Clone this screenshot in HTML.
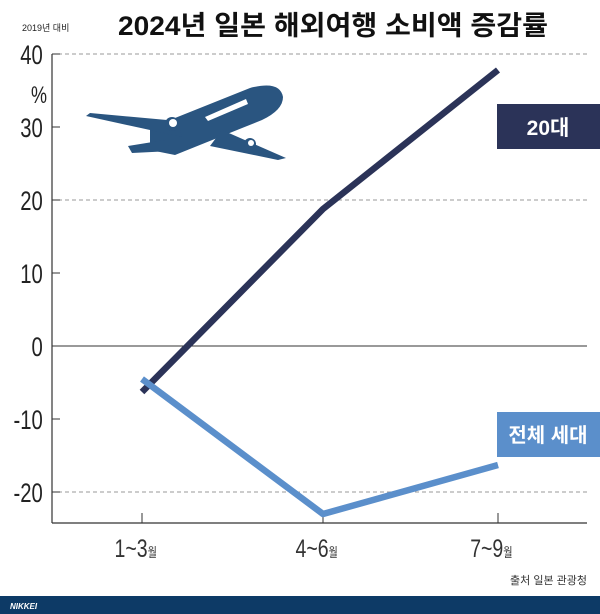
<!DOCTYPE html>
<html><head><meta charset="utf-8"><style>
body{margin:0;background:#fff;}
svg{display:block;}
text{font-family:"Liberation Sans","Noto Sans CJK KR",sans-serif;}
</style></head><body>
<svg width="600" height="614" viewBox="0 0 600 614">
<rect width="600" height="614" fill="#fff"/>
<text x="22" y="31" font-size="9" fill="#222">2019년 대비</text>
<text x="118" y="35" font-size="27" font-weight="bold" fill="#111" textLength="430" lengthAdjust="spacingAndGlyphs">2024년 일본 해외여행 소비액 증감률</text>
<g stroke="#999" stroke-dasharray="4,3" stroke-width="1">
<line x1="58" y1="54" x2="587" y2="54"/>
<line x1="58" y1="200" x2="587" y2="200"/>
<line x1="58" y1="492" x2="587" y2="492"/>
</g>
<line x1="52" y1="346" x2="587" y2="346" stroke="#333" stroke-width="1"/>
<line x1="52" y1="54" x2="52" y2="523" stroke="#333" stroke-width="1.2"/>
<line x1="52" y1="523" x2="587" y2="523" stroke="#333" stroke-width="1.2"/>
<g stroke="#333" stroke-width="1">
<line x1="52" y1="54" x2="60" y2="54"/><line x1="52" y1="127" x2="60" y2="127"/>
<line x1="52" y1="200" x2="60" y2="200"/><line x1="52" y1="273" x2="60" y2="273"/>
<line x1="52" y1="419" x2="60" y2="419"/><line x1="52" y1="492" x2="60" y2="492"/>
<line x1="142" y1="513" x2="142" y2="523"/><line x1="323" y1="513" x2="323" y2="523"/><line x1="498" y1="513" x2="498" y2="523"/>
</g>
<g font-size="27" fill="#222" text-anchor="end" transform="scale(0.75,1)">
<text x="57" y="64">40</text><text x="57" y="137">30</text><text x="57" y="210">20</text>
<text x="57" y="283">10</text><text x="57" y="356">0</text><text x="57" y="429">-10</text><text x="57" y="502">-20</text>
<text x="52" y="103" text-anchor="middle" font-size="24">%</text>
</g>
<g font-size="25" fill="#333" text-anchor="middle" transform="scale(0.78,1)">
<text x="174" y="557">1~3<tspan font-size="13">월</tspan></text>
<text x="406" y="557">4~6<tspan font-size="13">월</tspan></text>
<text x="630" y="557">7~9<tspan font-size="13">월</tspan></text>
</g>
<polyline points="142,392 323,209 498,70" fill="none" stroke="#2b3358" stroke-width="6.5" stroke-linejoin="round"/>
<polyline points="142,379 323,514 498,465" fill="none" stroke="#5b8fcb" stroke-width="6.5" stroke-linejoin="round"/>
<rect x="497" y="104" width="103" height="45" fill="#2b3358"/>
<text x="548" y="135" font-size="21" font-weight="bold" fill="#fff" text-anchor="middle">20대</text>
<rect x="497" y="412" width="103" height="45" fill="#5b8fcb"/>
<text x="548" y="442" font-size="20" font-weight="bold" fill="#fff" text-anchor="middle">전체 세대</text>
<text x="587" y="584" font-size="11" fill="#333" text-anchor="end">출처 일본 관광청</text>
<g fill="#2a5580">
<path d="M150,128 L250,88 Q280,80 283,97 Q283,110 262,120 L175,155 L150,150 Z"/>
<path d="M86,116 L90,113 L178,121 L182,137 Z"/>
<path d="M222,130 L286,158 L278,160 L210,146 Z"/>
<path d="M128,146 L165,140 L172,151 L132,153 Z"/>
<circle cx="172" cy="124" r="7"/><circle cx="250" cy="144" r="6"/>
</g>
<circle cx="173" cy="123" r="4" fill="#fff"/><circle cx="251" cy="143" r="3" fill="#fff"/>
<path d="M205,117 L246,99 L248,104 L208,121 Z" fill="#fff"/>
<rect x="0" y="596" width="600" height="18" fill="#0d3a66"/>
<text x="10" y="609" font-size="8" font-style="italic" font-weight="bold" fill="#fff">NIKKEI</text>
</svg>
</body></html>
